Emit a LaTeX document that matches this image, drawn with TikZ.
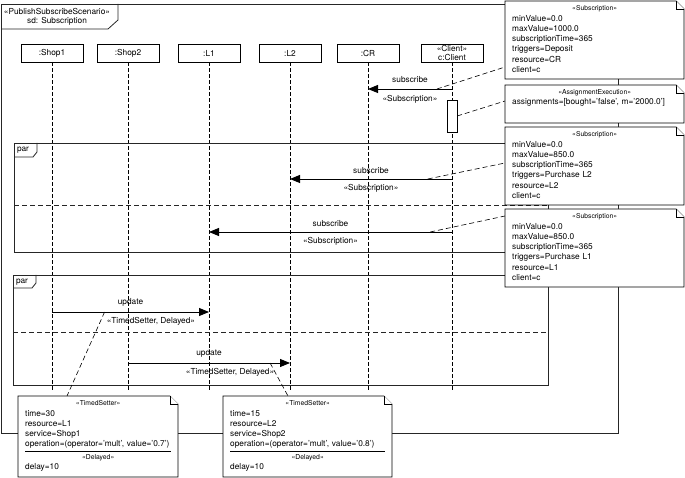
\documentclass[tikz,border=0pt]{standalone}
\usepackage{fontspec}
\setmainfont{TeX Gyre Heros}
\usetikzlibrary{positioning,arrows.meta}

\newcommand\stereo[1]{{\fontsize{6.8}{10.3}\selectfont «#1»}}
% note outline with folded corner: x1,y1,x2,y2
\newcommand\notefold[4]{%
  \filldraw[notebox] (#1,#2) -- (#3-8,#2) -- (#3,#2+8) -- (#3,#4) -- (#1,#4) -- cycle;
  \draw[notebox] (#3-8,#2) -- (#3-8,#2+8) -- (#3,#2+8);}

\begin{document}
\begin{tikzpicture}[x=1pt,y=-1pt,
  lb/.style={font=\fontsize{8.3}{10.3}\selectfont},
  head/.style={draw,lb,minimum width=62pt,minimum height=18pt,inner sep=1pt,align=center},
  life/.style={dash pattern=on 4pt off 2pt},
  frm/.style={line width=0.8pt,draw=black!85},
  sep/.style={frm,dash pattern=on 5pt off 3pt},
  msg/.style={line width=0.9pt,-{Triangle[length=10pt,width=8pt]}},
  msgtop/.style={lb,above=1.5pt},
  msgbot/.style={lb,below=1.5pt},
  link/.style={line width=0.6pt,dash pattern=on 5pt off 3pt},
  notebox/.style={fill=white,draw,line width=0.7pt},
  notetext/.style={lb,anchor=north west,align=left,inner xsep=7pt,inner ysep=4.5pt,
    execute at begin node=\setlength\parindent{0pt}}]
\useasboundingbox (0,0) rectangle (685,478);

% outer frame
\draw[frm] (1,4) rectangle (618,433);
\draw[frm] (1,29) -- (108,29) -- (118,20) -- (118,4);
\node[lb,align=center,font=\fontsize{8.3}{9.5}\selectfont] (sdname) at (57,17)
  {«PublishSubscribeScenario»\\sd: Subscription};

% lifelines
\node[head] (shop1) at (52,53) {:Shop1};
\node[head] (shop2) at (128,53) {:Shop2};
\node[head] (l1) at (209,53) {:L1};
\node[head] (l2) at (290,53) {:L2};
\node[head] (cr) at (368,53) {:CR};
\node[head,font=\fontsize{8.3}{8.8}\selectfont] (client) at (452,53) {«Client»\\c:Client};
\foreach \n in {shop1,shop2,l1,l2,cr,client}
  \draw[life] (\n.south) -- (\n |- 0,392);

% par fragments
\draw[frm] (14,143) rectangle (548,252);
\draw[frm] (14,157) -- (33,157) -- (37,152) -- (37,143);
\node[lb] (par1) at (23,150) {par};
\draw[sep] (14,205) -- (548,205);
\draw[frm] (13,275) rectangle (548,385);
\draw[frm] (13,288) -- (32,288) -- (36,283) -- (36,275);
\node[lb] (par2) at (22,282) {par};
\draw[sep] (13,332) -- (548,332);

% messages
\draw[msg] (client |- 0,89) -- coordinate[pos=0.18] (m1n) (cr |- 0,89)
  node[midway,lb,above=3pt] {subscribe} node[midway,lb,below=3pt] {«Subscription»};
\node[draw,fill=white,minimum width=10pt,minimum height=32pt,inner sep=0pt] (act) at (client |- 0,116) {};
\draw[msg] (client |- 0,179) -- coordinate[pos=0.15] (m2n) (l2 |- 0,179)
  node[midway,msgtop] {subscribe} node[midway,msgbot] {«Subscription»};
\draw[msg] (client |- 0,232) -- coordinate[pos=0.09] (m3n) (l1 |- 0,232)
  node[midway,msgtop] {subscribe} node[midway,msgbot] {«Subscription»};
\draw[msg] (shop1 |- 0,312) -- coordinate[pos=0.335] (m4n) (l1 |- 0,312)
  node[midway,msgtop] {update} node[pos=0.63,msgbot] {«TimedSetter, Delayed»};
\draw[msg] (shop2 |- 0,363) -- coordinate[pos=0.877] (m5n) (l2 |- 0,363)
  node[midway,msgtop] {update} node[pos=0.63,msgbot] {«TimedSetter, Delayed»};

% note anchors
\coordinate (subcrw) at (505,67);
\coordinate (assignw) at (505,101);
\coordinate (subl2w) at (505,163);
\coordinate (subl1w) at (505,216);
\coordinate (setter1n) at (67,396);
\coordinate (setter2n) at (288,396);

\draw[link] (m1n) -- (subcrw);
\draw[link] (act.east) -- (assignw);
\draw[link] (m2n) -- (subl2w);
\draw[link] (m3n) -- (subl1w);
\draw[link] (m4n) -- (setter1n);
\draw[link] (m5n) -- (setter2n);

% notes
\notefold{505}{1}{684}{79}
\node[notetext,text width=165pt] (subcr) at (505,1) {\centerline{\stereo{Subscription}}
  minValue=0.0\\maxValue=1000.0\\subscriptionTime=365\\triggers=Deposit\\resource=CR\\client=c};
\notefold{505}{85}{684}{123}
\node[notetext,text width=165pt] (assign) at (505,85) {\centerline{\stereo{AssignmentExecution}}
  assignments=[bought='false', m='2000.0']};
\notefold{505}{127}{684}{205}
\node[notetext,text width=165pt] (subl2) at (505,127) {\centerline{\stereo{Subscription}}
  minValue=0.0\\maxValue=850.0\\subscriptionTime=365\\triggers=Purchase L2\\resource=L2\\client=c};
\notefold{505}{209}{684}{287}
\node[notetext,text width=165pt] (subl1) at (505,209) {\centerline{\stereo{Subscription}}
  minValue=0.0\\maxValue=850.0\\subscriptionTime=365\\triggers=Purchase L1\\resource=L1\\client=c};
\notefold{18}{396}{178}{477}
\node[notetext,text width=146pt] (setter1) at (18,396) {\centerline{\stereo{TimedSetter}}
  time=30\\resource=L1\\service=Shop1\\operation=(operator='mult', value='0.7')\par
  \vspace{2pt}\hrule\vspace{3.5pt}\centerline{\stereo{Delayed}}
  delay=10};
\notefold{223}{396}{392}{477}
\node[notetext,text width=155pt] (setter2) at (223,396) {\centerline{\stereo{TimedSetter}}
  time=15\\resource=L2\\service=Shop2\\operation=(operator='mult', value='0.8')\par
  \vspace{2pt}\hrule\vspace{3.5pt}\centerline{\stereo{Delayed}}
  delay=10};
\end{tikzpicture}
\end{document}
